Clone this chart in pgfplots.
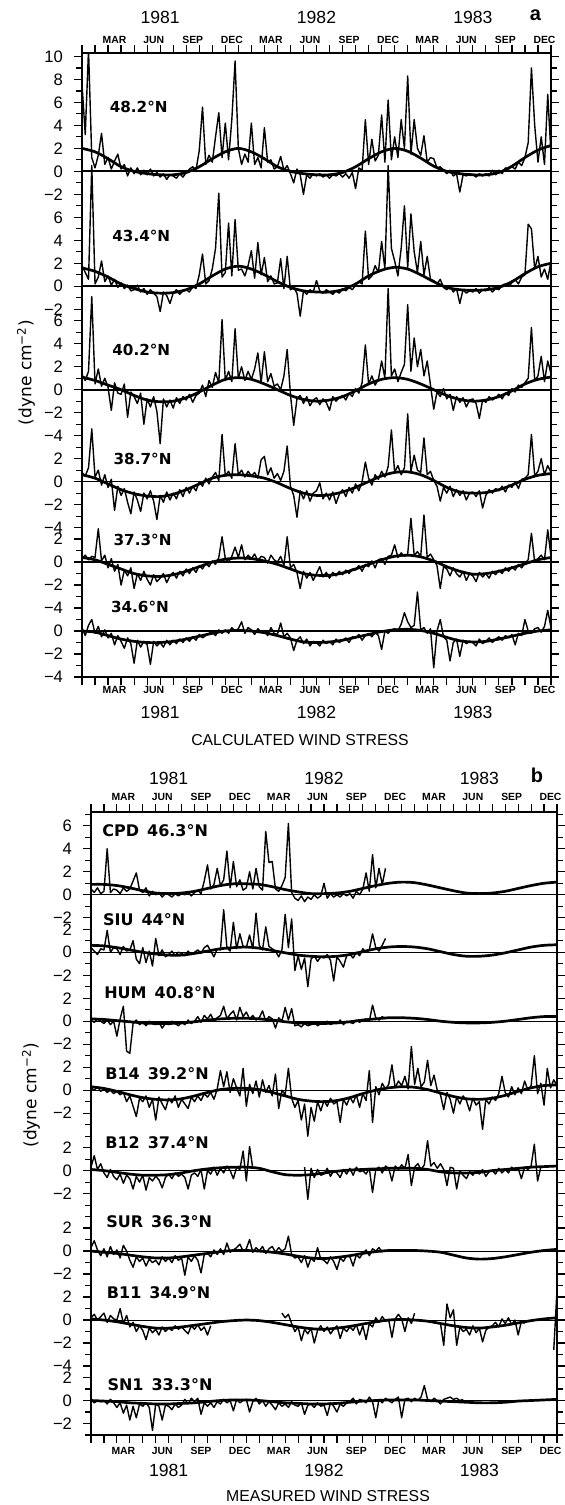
\documentclass[border=0pt]{standalone}
\usepackage{fontspec}
\setmainfont{Liberation Sans}
\newfontfamily\djv{DejaVu Sans}
\usepackage{pgfplots}
\usepackage{pgfplotstable}
\pgfplotsset{compat=1.18}
\pgfplotsset{table/x index=0, table/y index=0}

% ---- calculated wind stress, quarter-month samples (dyne cm^-2) ----
\pgfplotstableread[row sep=\\]{v\\
7.6\\3.2\\10.6\\1.2\\ 0.3\\1.4\\3.3\\0.6\\ 1.2\\0.2\\0.9\\1.5\\ 0.2\\0.6\\-0.4\\0.3\\
-0.2\\0.3\\-0.3\\0.1\\ -0.3\\0.2\\-0.4\\-0.1\\ -0.5\\-0.2\\-0.7\\-0.3\\ -0.4\\-0.6\\-0.2\\-0.5\\
-0.1\\0.2\\0.4\\0.1\\ 1.8\\5.6\\0.6\\1.4\\ 0.8\\3.0\\5.1\\1.2\\ 4.2\\1.0\\4.5\\9.6\\
2.0\\0.6\\1.5\\0.8\\ 4.2\\0.6\\1.2\\0.3\\ 3.8\\0.8\\1.0\\0.2\\ 0.4\\1.3\\0.1\\0.5\\
-0.2\\-1.0\\0.2\\-0.3\\ -2.0\\-0.3\\-0.6\\-0.2\\ -0.4\\-0.2\\-0.5\\-0.3\\ -0.6\\-0.3\\-0.4\\-0.2\\
-0.5\\-0.2\\-0.6\\-0.1\\ -1.5\\0.3\\0.1\\4.5\\ 0.6\\2.8\\0.9\\1.4\\ 4.9\\0.8\\6.2\\1.0\\
3.0\\1.2\\4.5\\2.0\\ 8.3\\1.5\\4.5\\2.0\\ 1.4\\3.1\\0.8\\1.2\\ 1.1\\0.3\\0.4\\0.1\\
-0.2\\0.1\\-0.4\\-0.2\\ -1.8\\-0.3\\-0.4\\-0.2\\ -0.3\\-0.5\\-0.2\\-0.4\\ -0.2\\-0.4\\0.1\\-0.3\\
0.1\\-0.2\\0.3\\0.2\\ 0.4\\0.2\\0.8\\0.5\\ 1.2\\2.5\\9.0\\4.0\\ 0.8\\3.0\\0.6\\6.7\\ 1.5\\
}\nA
\pgfplotstableread[row sep=\\]{v\\
1.8\\1.2\\0.6\\10.5\\ 0.2\\0.8\\2.2\\0.4\\ 0.9\\0.1\\0.6\\-0.1\\ 0.3\\-0.2\\0.1\\-0.4\\
-0.3\\0.1\\-0.5\\-0.2\\ -0.7\\-0.3\\-0.6\\-0.9\\ -2.2\\-0.5\\-0.8\\-1.5\\ -0.6\\-0.3\\-0.7\\-0.4\\
-0.3\\-0.5\\0.0\\-0.2\\ 1.0\\2.8\\0.2\\0.5\\ 1.5\\3.3\\8.1\\0.8\\ 1.2\\5.5\\0.9\\5.8\\
1.4\\1.5\\0.9\\1.8\\ 3.1\\0.7\\3.8\\1.0\\ 2.5\\0.4\\0.9\\0.2\\ 0.3\\2.4\\-0.2\\2.6\\
-0.3\\-0.1\\-0.6\\-2.6\\ -0.4\\-0.7\\-0.3\\-0.5\\ 0.5\\-0.4\\-0.6\\-0.3\\ -0.5\\-0.7\\-0.4\\-0.6\\
-0.2\\-0.4\\-0.1\\-0.3\\ 0.1\\0.4\\0.2\\4.8\\ 0.6\\0.9\\1.8\\1.2\\ 3.9\\1.5\\10.5\\3.3\\
2.2\\0.9\\3.3\\7.0\\ 1.6\\6.3\\3.0\\1.2\\ 3.9\\1.0\\2.6\\0.6\\ 0.5\\0.2\\0.6\\-0.1\\
-0.3\\0.0\\-0.5\\-0.2\\ -1.5\\-0.3\\-0.6\\-0.4\\ -0.5\\-0.2\\-0.6\\-0.3\\ -0.4\\-0.1\\-0.5\\-0.2\\
-0.3\\0.1\\0.2\\0.0\\ 0.3\\0.6\\0.2\\0.8\\ 1.0\\5.4\\5.0\\1.5\\ 2.6\\0.8\\1.5\\0.6\\ 2.2\\
}\nB
\pgfplotstableread[row sep=\\]{v\\
1.3\\0.8\\1.6\\8.1\\ 0.5\\1.8\\0.3\\1.0\\ 0.2\\-1.8\\0.6\\-0.3\\ -0.4\\0.5\\-2.4\\-0.2\\
-0.6\\-1.2\\-0.3\\-3.0\\ -0.8\\-1.5\\-0.6\\-1.9\\ -4.7\\-0.8\\-1.5\\-0.9\\ -1.6\\-0.7\\-1.2\\-0.6\\
-0.9\\-0.4\\-1.1\\-0.5\\ -0.3\\0.4\\-0.6\\0.8\\ 0.2\\1.5\\0.6\\6.1\\ 0.8\\1.6\\0.7\\5.3\\
1.0\\2.0\\0.8\\1.6\\ 0.9\\1.8\\3.2\\0.6\\ 3.3\\0.7\\1.4\\0.3\\ 0.5\\0.0\\1.2\\3.5\\
-0.4\\-3.1\\-0.8\\-0.5\\ -1.2\\-0.6\\-1.4\\-0.9\\ -0.7\\-1.3\\-0.8\\-1.1\\ -1.8\\-0.6\\-1.0\\-0.7\\
-0.5\\-0.9\\-0.3\\-0.6\\ 0.1\\-0.3\\0.6\\3.9\\ 0.5\\1.2\\0.4\\0.9\\ 2.5\\1.0\\8.8\\1.2\\
1.8\\0.7\\1.5\\2.2\\ 7.4\\1.6\\4.5\\2.0\\ 3.5\\1.2\\2.5\\0.4\\ -1.7\\-0.2\\-0.6\\0.1\\
-0.8\\-0.4\\-1.8\\-0.6\\ -1.1\\-0.7\\-1.5\\-0.9\\ -0.8\\-1.2\\-2.5\\-0.9\\ -1.1\\-0.6\\-0.9\\-0.7\\
-0.4\\-0.8\\-0.3\\-0.5\\ 0.1\\-0.2\\0.4\\0.2\\ 0.6\\1.0\\5.4\\0.8\\ 1.2\\2.9\\0.7\\2.5\\ 1.4\\
}\nC
\pgfplotstableread[row sep=\\]{v\\
0.8\\0.5\\1.2\\4.6\\ 0.4\\1.0\\-0.3\\0.6\\ -0.5\\0.2\\-2.5\\-0.4\\ -1.2\\-0.6\\-1.8\\-2.8\\
-0.9\\-1.6\\-2.6\\-1.0\\ -1.5\\-0.8\\-1.7\\-3.3\\ -1.2\\-1.8\\-0.9\\-1.6\\ -1.0\\-1.5\\-0.7\\-1.3\\
-0.5\\-1.0\\-0.4\\-0.8\\ 0.0\\-0.4\\0.3\\-0.2\\ 0.4\\0.8\\0.1\\4.1\\ 0.5\\0.9\\0.3\\3.3\\
0.6\\1.0\\0.4\\0.9\\ 0.5\\0.8\\0.3\\1.9\\ 2.2\\0.6\\1.2\\0.3\\ 0.7\\0.1\\0.9\\3.1\\
-0.4\\-1.2\\-3.1\\-0.8\\ -1.5\\-0.8\\-1.7\\-1.0\\ -0.8\\-0.1\\-1.5\\-1.0\\ -1.6\\-0.9\\-1.9\\-1.1\\
-0.7\\-1.3\\-0.5\\-1.0\\ -0.2\\-0.8\\0.0\\1.7\\ 0.3\\-0.3\\0.6\\0.2\\ 0.9\\0.4\\1.3\\4.5\\
0.8\\1.4\\0.6\\1.2\\ 5.9\\0.9\\2.3\\1.0\\ 0.8\\3.8\\0.6\\0.9\\ 0.1\\-0.4\\-1.7\\-0.5\\
-1.0\\-0.4\\-1.3\\-0.7\\ -1.2\\-0.8\\-1.6\\-1.0\\ -0.9\\-1.3\\-0.8\\-2.3\\ -1.2\\-0.7\\-1.0\\-0.6\\
-0.8\\-0.4\\-0.9\\-0.3\\ -0.5\\0.0\\-0.6\\0.2\\ 0.3\\0.6\\4.1\\0.5\\ 0.9\\2.0\\0.6\\1.4\\ 0.8\\
}\nD
\pgfplotstableread[row sep=\\]{v\\
0.3\\0.6\\0.2\\0.5\\ 0.4\\2.9\\0.1\\0.6\\ -0.5\\0.3\\-0.8\\-0.2\\ -2.0\\-0.7\\-1.2\\-0.5\\
-2.3\\-1.0\\-1.6\\-0.8\\ -1.5\\-2.0\\-1.1\\-1.7\\ -1.4\\-1.0\\-1.8\\-1.2\\ -0.9\\-1.4\\-0.8\\-1.2\\
-0.6\\-1.0\\-0.5\\-0.9\\ -0.3\\-0.6\\-0.1\\-0.4\\ 0.1\\-0.2\\0.4\\2.2\\ 0.3\\0.0\\0.5\\1.3\\
0.4\\1.5\\0.2\\0.6\\ 0.3\\0.7\\0.1\\0.5\\ 0.4\\-0.1\\0.6\\0.2\\ 0.0\\0.5\\-0.3\\2.2\\
-0.5\\-0.2\\-0.9\\-2.3\\ -0.8\\-1.4\\-0.9\\-1.6\\ -1.0\\-0.4\\-1.3\\-0.9\\ -1.4\\-0.9\\-1.2\\-0.8\\
-1.1\\-0.7\\-1.0\\-0.6\\ -0.7\\-0.3\\-0.8\\-0.2\\ -0.4\\0.1\\-0.5\\0.2\\ 0.3\\-0.2\\0.5\\0.6\\
1.5\\0.4\\0.8\\0.5\\ 0.7\\3.8\\0.6\\0.9\\ 0.5\\4.1\\0.4\\0.7\\ 0.2\\-0.3\\-2.3\\-0.4\\
-0.6\\-1.2\\-0.5\\-1.0\\ -1.3\\-0.8\\-1.6\\-1.0\\ -1.2\\-1.7\\-0.9\\-1.3\\ -1.0\\-1.4\\-0.8\\-1.1\\
-0.7\\-1.0\\-0.5\\-0.8\\ -0.4\\-0.7\\-0.2\\-0.5\\ -0.1\\0.2\\2.5\\0.0\\ 0.3\\0.6\\0.2\\2.8\\ 0.5\\
}\nE
\pgfplotstableread[row sep=\\]{v\\
0.3\\-0.4\\0.5\\1.0\\ -0.2\\0.4\\-0.5\\0.1\\ -0.6\\-0.2\\-1.2\\-0.4\\ -0.9\\-1.5\\-0.6\\-1.1\\
-2.8\\-0.8\\-1.4\\-0.9\\ -1.2\\-2.9\\-0.9\\-1.3\\ -1.0\\-1.4\\-0.8\\-1.2\\ -0.8\\-1.1\\-0.7\\-1.0\\
-0.6\\-0.9\\-0.5\\-0.8\\ -0.3\\-0.6\\-0.4\\-0.2\\ -0.1\\-0.4\\0.1\\-0.2\\ 0.1\\-0.2\\0.3\\0.0\\
0.2\\0.8\\-0.2\\0.3\\ 0.1\\-0.3\\0.2\\-0.1\\ 0.0\\-0.4\\0.3\\-0.2\\ -0.3\\0.7\\-0.5\\-0.2\\
-0.6\\-1.7\\-0.8\\-0.5\\ -1.1\\-0.7\\-1.3\\-0.9\\ -1.0\\-1.3\\-0.8\\-1.1\\ -0.9\\-1.2\\-0.7\\-1.0\\
-0.8\\-0.6\\-1.0\\-0.5\\ -0.6\\-0.3\\-0.8\\-0.4\\ -0.2\\-0.5\\-0.1\\-0.4\\ -1.6\\0.0\\-0.2\\0.1\\
0.2\\0.0\\0.6\\1.6\\ 0.8\\0.3\\0.5\\3.4\\ 0.1\\0.3\\-0.2\\0.2\\ -3.2\\0.0\\1.0\\-0.5\\
-0.8\\-2.6\\-1.0\\-0.7\\ -2.2\\-0.8\\-1.1\\-0.9\\ -1.0\\-1.3\\-0.7\\-1.1\\ -0.9\\-0.6\\-1.0\\-0.7\\
-0.5\\-0.8\\-0.4\\-0.6\\ -0.3\\-1.2\\-0.2\\-0.4\\ 1.0\\0.0\\-0.2\\0.2\\ 0.3\\-0.1\\0.4\\1.8\\ 0.3\\
}\nF
% ---- seasonal fits, monthly ----
\pgfplotstableread[row sep=\\]{v\\ 2.0\\1.7\\1.1\\0.4\\0.0\\-0.2\\-0.3\\-0.3\\-0.1\\0.4\\1.1\\1.7\\2.0\\1.7\\1.1\\0.4\\0.0\\-0.2\\-0.3\\-0.3\\-0.1\\0.4\\1.1\\1.7\\2.0\\1.75\\1.15\\0.45\\0.0\\-0.2\\-0.3\\-0.3\\-0.1\\0.45\\1.2\\1.85\\2.25\\}\sA
\pgfplotstableread[row sep=\\]{v\\ 1.6\\1.3\\0.8\\0.2\\-0.2\\-0.5\\-0.6\\-0.55\\-0.3\\0.2\\0.9\\1.5\\1.75\\1.5\\1.0\\0.4\\-0.1\\-0.4\\-0.5\\-0.5\\-0.3\\0.2\\0.9\\1.4\\1.65\\1.5\\1.0\\0.4\\-0.1\\-0.3\\-0.35\\-0.3\\-0.1\\0.4\\1.1\\1.7\\2.0\\}\sB
\pgfplotstableread[row sep=\\]{v\\ 1.1\\0.8\\0.4\\0.0\\-0.5\\-0.9\\-1.05\\-1.0\\-0.7\\-0.2\\0.4\\0.9\\1.05\\0.9\\0.5\\0.0\\-0.5\\-0.85\\-1.0\\-0.9\\-0.6\\-0.1\\0.5\\0.9\\1.05\\0.9\\0.5\\0.0\\-0.5\\-0.85\\-1.0\\-0.9\\-0.6\\-0.1\\0.5\\0.9\\1.1\\}\sC
\pgfplotstableread[row sep=\\]{v\\ 0.6\\0.3\\-0.2\\-0.7\\-1.05\\-1.25\\-1.3\\-1.1\\-0.7\\-0.2\\0.3\\0.55\\0.6\\0.5\\0.3\\-0.1\\-0.6\\-1.0\\-1.2\\-1.15\\-0.9\\-0.5\\0.0\\0.5\\0.8\\0.85\\0.6\\0.1\\-0.5\\-0.9\\-1.0\\-0.95\\-0.7\\-0.3\\0.2\\0.55\\0.7\\}\sD
\pgfplotstableread[row sep=\\]{v\\ 0.4\\0.2\\-0.2\\-0.6\\-1.0\\-1.2\\-1.25\\-1.1\\-0.8\\-0.4\\0.0\\0.25\\0.35\\0.3\\0.1\\-0.2\\-0.6\\-1.0\\-1.15\\-1.15\\-0.95\\-0.6\\-0.2\\0.2\\0.5\\0.6\\0.45\\0.1\\-0.4\\-0.8\\-1.05\\-1.0\\-0.8\\-0.5\\-0.15\\0.2\\0.4\\}\sE
\pgfplotstableread[row sep=\\]{v\\ 0.0\\-0.1\\-0.4\\-0.7\\-0.9\\-1.0\\-1.0\\-0.9\\-0.7\\-0.45\\-0.2\\0.0\\0.05\\0.0\\-0.15\\-0.4\\-0.7\\-0.95\\-1.0\\-0.95\\-0.8\\-0.55\\-0.3\\-0.05\\0.1\\0.15\\0.05\\-0.2\\-0.55\\-0.85\\-0.95\\-0.9\\-0.7\\-0.45\\-0.2\\0.0\\0.1\\}\sF

% ---- measured wind stress ----
\pgfplotstableread[row sep=\\]{v\\
0.5\\0.2\\0.6\\0.1\\ 0.3\\4.0\\0.2\\0.5\\ 0.4\\0.1\\0.6\\0.3\\ 0.5\\1.2\\1.9\\0.4\\
0.2\\0.6\\-0.1\\0.3\\ 0.0\\0.2\\-0.2\\0.1\\ 0.0\\-0.2\\0.1\\-0.1\\ 0.1\\0.0\\0.2\\-0.1\\
0.2\\0.4\\0.1\\1.2\\ 2.6\\0.5\\0.9\\2.3\\ 0.8\\1.3\\3.8\\0.6\\ 2.9\\0.7\\1.3\\0.4\\
0.6\\2.0\\0.5\\2.3\\ 0.7\\0.4\\5.5\\2.8\\ 2.9\\0.5\\0.3\\0.8\\ 1.5\\6.2\\0.2\\-0.3\\
-0.5\\-0.1\\-0.6\\-0.2\\ -0.4\\0.0\\-0.3\\-0.1\\ 1.0\\-0.3\\0.1\\-0.2\\ 0.0\\-0.2\\0.1\\-0.1\\
0.1\\-0.3\\0.3\\0.0\\ 0.5\\1.9\\0.3\\3.5\\ 0.6\\2.3\\0.9\\2.3\\
}\nG
\pgfplotstableread[row sep=\\]{v\\
0.4\\0.1\\-0.2\\0.3\\ 0.2\\1.9\\0.0\\0.4\\ 0.3\\-0.2\\0.5\\0.1\\ 0.2\\1.0\\-0.6\\-1.0\\
0.4\\-0.9\\0.1\\-1.2\\ 1.2\\-0.3\\0.2\\-0.4\\ -0.2\\0.1\\-0.3\\0.0\\ -0.1\\-0.3\\0.1\\-0.2\\
0.0\\0.2\\-0.1\\0.4\\ 0.6\\0.1\\-0.4\\0.3\\ 0.2\\3.7\\0.4\\0.1\\ 2.6\\0.3\\1.6\\0.5\\
0.4\\1.5\\0.3\\3.4\\ 0.6\\0.2\\2.2\\0.5\\ 0.3\\0.1\\-0.4\\0.2\\ 3.3\\0.4\\2.9\\-1.6\\
-0.3\\-1.5\\-0.5\\-3.0\\ -0.6\\-0.3\\-0.8\\-0.4\\ -0.5\\-0.2\\-0.7\\-2.5\\ -0.4\\-0.8\\-1.3\\-0.3\\
-0.2\\-0.5\\0.0\\-0.3\\ 0.3\\0.0\\0.2\\1.6\\ 0.4\\0.1\\0.6\\1.2\\
}\nH
\pgfplotstableread[row sep=\\]{v\\
0.1\\-0.1\\0.2\\0.0\\ -0.2\\0.1\\-0.3\\0.0\\ -1.3\\0.2\\1.3\\-2.6\\ -2.8\\-0.2\\0.1\\-0.3\\
-0.1\\-0.4\\0.0\\-0.2\\ -0.3\\-0.1\\-0.6\\-0.2\\ -0.3\\0.0\\-0.2\\-0.4\\ -0.1\\-0.3\\0.1\\-0.2\\
0.0\\0.4\\-0.1\\0.5\\ 0.2\\0.6\\0.0\\0.3\\ 0.5\\1.3\\0.2\\0.6\\ 0.9\\0.1\\1.2\\0.4\\
0.8\\0.2\\0.5\\0.1\\ 0.3\\0.9\\0.0\\0.4\\ 0.2\\-0.6\\0.3\\0.0\\ 1.2\\0.1\\1.1\\-0.4\\
-0.3\\-0.5\\-0.2\\-0.4\\ -0.3\\-0.1\\-0.4\\-0.2\\ -0.2\\0.0\\-0.3\\-0.1\\ -0.2\\0.1\\-0.3\\0.0\\
-0.1\\-0.2\\0.1\\-0.1\\ 0.1\\0.2\\0.0\\1.4\\ 0.3\\0.1\\0.4\\0.2\\
}\nI
\pgfplotstableread[row sep=\\]{v\\
0.2\\0.0\\0.3\\-0.1\\ 0.1\\-0.2\\0.0\\-0.3\\ -0.1\\-0.4\\-0.2\\-1.0\\ -0.5\\-1.4\\-2.3\\-0.7\\
-1.0\\-0.5\\-1.5\\-0.8\\ -2.6\\-0.6\\-1.2\\-1.7\\ -0.7\\-1.1\\-0.5\\-1.5\\ -0.8\\-1.2\\-1.6\\-0.6\\
-1.0\\-0.5\\-0.9\\-0.3\\ -0.6\\-0.2\\-0.8\\0.1\\ 1.7\\0.3\\1.6\\-0.2\\ 1.0\\0.2\\-0.5\\1.9\\
-1.4\\0.5\\-0.3\\0.8\\ -0.6\\0.9\\-0.2\\0.4\\ -0.5\\1.4\\-1.6\\0.0\\ -0.4\\1.9\\-0.7\\-1.5\\
-0.9\\-2.6\\-1.2\\-4.0\\ -1.5\\-2.7\\-1.0\\-1.8\\ -0.9\\-1.4\\-0.7\\-1.2\\ -1.0\\-2.8\\-0.8\\-1.3\\
-0.6\\-1.1\\-0.4\\-1.5\\ -0.3\\-0.9\\1.7\\-2.8\\ 0.3\\-0.4\\0.6\\0.1\\ 0.5\\2.2\\0.2\\0.8\\
0.4\\1.2\\0.1\\3.8\\ 0.5\\1.9\\0.3\\0.7\\ 2.6\\0.4\\1.3\\0.0\\ -0.4\\-1.7\\-0.2\\-0.8\\
-2.0\\-0.6\\-1.2\\-0.5\\ -0.9\\-1.8\\-0.7\\-1.3\\ -1.0\\-3.4\\-0.8\\-1.2\\ -0.6\\-0.9\\-0.3\\1.2\\
-0.2\\-0.6\\0.3\\-0.4\\ 0.2\\-0.3\\0.8\\0.0\\ 0.4\\3.0\\-0.3\\0.6\\ -1.3\\1.9\\0.2\\0.9\\ 0.4\\
}\nJ
\pgfplotstableread[row sep=\\]{v\\
0.3\\1.3\\0.1\\0.6\\ -0.2\\-0.6\\0.1\\-0.5\\ -0.8\\-0.3\\-1.1\\-0.4\\ -0.7\\-1.6\\-0.5\\-1.0\\
-0.4\\-1.7\\-0.6\\-0.9\\ -0.5\\-0.8\\-1.5\\-0.6\\ -0.3\\-0.7\\-0.2\\-0.5\\ -0.3\\-0.6\\-1.6\\-0.4\\
-0.2\\-0.5\\0.1\\-1.6\\ 0.0\\-0.3\\0.3\\-0.4\\ 0.2\\-0.2\\0.4\\0.0\\ -0.7\\0.3\\0.1\\1.7\\
-0.9\\2.1\\0.2\\
}\nKa
\pgfplotstableread[row sep=\\]{v\\
0.3\\-2.5\\ 0.2\\-0.6\\0.1\\-0.4\\ -0.3\\0.2\\-0.5\\0.0\\ -0.2\\-0.6\\0.1\\-0.3\\
0.2\\-0.4\\0.3\\-0.1\\ 0.0\\-0.3\\0.2\\-1.9\\ 0.1\\0.3\\-0.2\\0.4\\ 0.2\\-0.9\\0.4\\0.1\\
0.5\\0.2\\1.4\\-1.3\\ 0.3\\0.6\\0.1\\0.5\\ 2.6\\0.4\\0.7\\0.2\\ 0.6\\0.1\\-1.3\\0.3\\
0.2\\-1.6\\0.0\\-0.4\\ -0.7\\-0.1\\-0.4\\0.0\\ -0.3\\0.1\\-0.5\\-0.1\\ 0.0\\-0.3\\0.2\\-0.2\\
0.1\\-0.2\\0.3\\0.0\\ 0.2\\-0.7\\0.3\\0.1\\ 0.4\\2.3\\-0.9\\0.3\\
}\nKb
\pgfplotstableread[row sep=\\]{v\\
0.3\\0.9\\0.1\\-0.4\\ 0.2\\-0.5\\0.4\\-0.3\\ 0.1\\-0.6\\0.5\\0.0\\ -0.8\\-1.4\\-0.5\\-0.9\\
-0.6\\-1.3\\-0.7\\-1.0\\ -0.8\\-1.2\\-0.5\\-0.9\\ -0.6\\-1.0\\-0.4\\-0.8\\ -0.6\\-2.1\\-0.5\\-0.9\\
-0.4\\-0.8\\-1.9\\-0.3\\ -0.2\\-0.5\\0.1\\-0.3\\ 0.2\\-0.3\\0.7\\-0.1\\ 0.1\\0.3\\0.6\\0.0\\
0.2\\1.0\\-0.1\\0.3\\ 0.0\\0.4\\-0.2\\0.2\\ 0.4\\-0.1\\0.3\\0.0\\ 0.2\\1.3\\-0.3\\-0.6\\
-0.5\\-1.0\\-0.4\\-1.4\\ -0.6\\-0.9\\0.3\\-0.7\\ -0.8\\-1.1\\-0.5\\-0.9\\ -1.6\\-0.6\\-0.9\\-0.4\\
-0.5\\-1.3\\-0.3\\-0.6\\ -0.2\\0.1\\-0.4\\0.2\\ 0.0\\0.3\\-0.1\\
}\nL
\pgfplotstableread[row sep=\\]{v\\
0.2\\0.5\\0.0\\0.3\\ 0.6\\-0.2\\0.4\\0.1\\ 0.0\\1.0\\-0.3\\0.4\\ -0.6\\-0.2\\-1.0\\-0.5\\
-0.9\\-1.7\\-0.7\\-1.1\\ -0.8\\-1.3\\-0.6\\-1.0\\ -0.7\\-0.9\\-0.5\\-0.8\\ -0.6\\-0.9\\-1.2\\-0.5\\
-0.8\\-0.4\\-0.9\\-0.6\\ -1.3\\-0.5\\
}\nMa
\pgfplotstableread[row sep=\\]{v\\
0.6\\ 0.2\\0.5\\-0.3\\-1.0\\ -0.6\\-1.8\\-0.8\\-1.2\\ -0.7\\-2.0\\-0.9\\-0.5\\ -1.0\\-0.6\\-1.2\\-0.8\\
-0.5\\-1.6\\-0.7\\-1.0\\ -0.6\\-0.9\\-0.4\\-1.3\\ -0.5\\-1.7\\-0.3\\-0.6\\ 0.2\\-0.2\\0.3\\-0.1\\
0.0\\-1.5\\0.1\\0.5\\ 0.1\\-1.0\\0.2\\-0.3\\ 0.6\\
}\nMb
\pgfplotstableread[row sep=\\]{v\\
-0.3\\-2.2\\1.4\\0.2\\ 0.9\\-2.2\\-0.6\\-1.0\\ -0.8\\-1.3\\-0.5\\-1.1\\ -0.7\\-1.9\\-0.9\\-0.6\\
-0.5\\-0.2\\-0.6\\0.1\\ -0.3\\0.2\\-0.4\\0.0\\ -1.3\\-0.1\\-0.3\\
}\nMc
\pgfplotstableread[row sep=\\]{v\\ -2.6\\2.6\\}\nMd
\pgfplotstableread[row sep=\\]{v\\
0.1\\-0.2\\0.0\\-0.1\\ 0.0\\-0.3\\0.1\\-0.2\\ -0.6\\-0.2\\-1.1\\-0.4\\ -1.7\\-0.5\\-1.5\\-0.3\\
-0.5\\-0.2\\-0.6\\-2.6\\ -0.3\\-0.5\\-1.7\\-0.4\\ -0.5\\-0.8\\-0.3\\-0.6\\ -0.4\\0.1\\-0.3\\0.2\\
-0.1\\0.2\\-1.2\\-0.2\\ -0.5\\-0.2\\-0.6\\-0.1\\ -0.3\\0.1\\-0.2\\0.0\\ -0.9\\0.1\\-0.2\\0.0\\
0.1\\-1.0\\-0.1\\0.2\\ -0.3\\0.0\\-0.5\\-0.1\\ -0.4\\-0.8\\-0.2\\-0.5\\ -0.3\\-0.6\\-0.1\\-0.4\\
-0.5\\-0.2\\-1.2\\-0.4\\ -0.3\\-0.6\\-0.2\\-0.5\\ -0.4\\-1.3\\-0.2\\-0.5\\ -1.0\\-0.3\\-0.5\\-0.2\\
-0.1\\0.2\\-0.3\\0.1\\ 0.0\\-0.2\\0.3\\-0.1\\ -1.5\\0.1\\-0.2\\0.2\\ 0.0\\-0.2\\0.1\\0.3\\
-1.5\\0.1\\0.2\\-0.1\\ 0.2\\0.0\\0.3\\1.3\\ 0.1\\-0.1\\0.2\\0.0\\ -0.3\\0.1\\0.2\\0.3\\ 0.1\\0.2\\0.0\\0.1\\
}\nN
\pgfplotstableread[row sep=\\]{v\\ 0.9\\0.9\\0.8\\0.6\\0.35\\0.15\\0.1\\0.15\\0.3\\0.55\\0.8\\0.95\\0.95\\0.9\\0.7\\0.45\\0.25\\0.1\\0.1\\0.15\\0.3\\0.55\\0.8\\1.0\\1.1\\1.05\\0.85\\0.6\\0.35\\0.15\\0.1\\0.15\\0.3\\0.55\\0.8\\1.0\\1.1\\}\sG
\pgfplotstableread[row sep=\\]{v\\ 0.6\\0.55\\0.4\\0.2\\0.0\\-0.15\\-0.25\\-0.25\\-0.1\\0.1\\0.3\\0.4\\0.45\\0.35\\0.15\\-0.05\\-0.25\\-0.35\\-0.4\\-0.35\\-0.2\\0.05\\0.3\\0.45\\0.5\\0.45\\0.3\\0.05\\-0.2\\-0.35\\-0.35\\-0.25\\-0.05\\0.2\\0.45\\0.6\\0.65\\}\sH
\pgfplotstableread[row sep=\\]{v\\ 0.2\\0.15\\0.05\\-0.05\\-0.15\\-0.2\\-0.2\\-0.15\\-0.05\\0.1\\0.2\\0.25\\0.25\\0.2\\0.1\\-0.05\\-0.15\\-0.2\\-0.2\\-0.15\\-0.05\\0.1\\0.2\\0.3\\0.3\\0.25\\0.15\\0.0\\-0.1\\-0.15\\-0.15\\-0.1\\0.0\\0.15\\0.3\\0.4\\0.4\\}\sI
\pgfplotstableread[row sep=\\]{v\\ 0.3\\0.15\\-0.1\\-0.4\\-0.65\\-0.8\\-0.85\\-0.75\\-0.5\\-0.2\\0.05\\0.15\\0.15\\0.05\\-0.2\\-0.5\\-0.8\\-0.95\\-1.0\\-0.9\\-0.65\\-0.3\\0.0\\0.2\\0.3\\0.25\\0.05\\-0.25\\-0.55\\-0.75\\-0.8\\-0.7\\-0.45\\-0.1\\0.2\\0.4\\0.45\\}\sJ
\pgfplotstableread[row sep=\\]{v\\ 0.1\\0.0\\-0.15\\-0.3\\-0.4\\-0.4\\-0.35\\-0.2\\0.0\\0.15\\0.25\\0.3\\0.3\\0.2\\-0.1\\-0.35\\-0.4\\-0.35\\-0.2\\-0.05\\0.05\\0.1\\0.15\\0.2\\0.2\\0.2\\0.1\\-0.1\\-0.2\\-0.2\\-0.15\\0.0\\0.1\\0.2\\0.3\\0.35\\0.4\\}\sK
\pgfplotstableread[row sep=\\]{v\\ 0.0\\-0.1\\-0.2\\-0.35\\-0.5\\-0.6\\-0.6\\-0.5\\-0.35\\-0.2\\-0.05\\0.05\\0.05\\0.0\\-0.1\\-0.25\\-0.45\\-0.6\\-0.65\\-0.55\\-0.4\\-0.2\\-0.05\\0.05\\0.05\\0.05\\0.0\\-0.1\\-0.35\\-0.6\\-0.7\\-0.65\\-0.5\\-0.3\\-0.1\\0.05\\0.15\\}\sL
\pgfplotstableread[row sep=\\]{v\\ 0.1\\0.0\\-0.15\\-0.35\\-0.55\\-0.7\\-0.7\\-0.6\\-0.45\\-0.3\\-0.15\\-0.05\\0.0\\-0.05\\-0.2\\-0.4\\-0.6\\-0.75\\-0.8\\-0.7\\-0.55\\-0.35\\-0.15\\0.0\\0.05\\0.0\\-0.1\\-0.3\\-0.5\\-0.65\\-0.7\\-0.6\\-0.45\\-0.25\\-0.05\\0.1\\0.2\\}\sM
\pgfplotstableread[row sep=\\]{v\\ 0.0\\-0.05\\-0.1\\-0.2\\-0.25\\-0.3\\-0.3\\-0.25\\-0.2\\-0.1\\0.0\\0.05\\0.05\\0.0\\-0.1\\-0.2\\-0.25\\-0.3\\-0.3\\-0.25\\-0.15\\-0.05\\0.0\\0.05\\0.05\\0.05\\0.0\\-0.05\\-0.1\\-0.15\\-0.2\\-0.2\\-0.15\\-0.05\\0.0\\0.05\\0.1\\}\sN

\tikzset{
  noisy/.style={black, line width=0.7pt, line join=round},
  fit/.style={black, line width=1.35pt, smooth},
  zl/.style={black, line width=0.85pt},
  zlb/.style={black, line width=0.5pt},
  mlab/.style={font=\bfseries\fontsize{5.2}{6}\selectfont, inner sep=0pt},
  ylab/.style={font=\fontsize{8.8}{10}\selectfont, inner sep=0pt},
  stn/.style={font=\djv\bfseries\fontsize{7.6}{9}\selectfont, anchor=west, inner sep=0pt},
  stnb/.style={font=\djv\bfseries\fontsize{8}{9}\selectfont, anchor=west, inner sep=0pt},
}
\pgfplotsset{panel/.style={
  scale only axis, anchor=south west,
  xmin=0, xmax=36, xtick={0,...,36}, xticklabels={},
  tick align=outside, major tick length=4pt, minor tick length=2.8pt,
  axis line style={line width=0.8pt},
  every tick/.style={black, line width=0.6pt},
  y tick label style={font=\fontsize{8.3}{9}\selectfont, xshift=-2pt},
  clip mode=individual,
}}
\newcommand\monthlabels[2]{%
  \node[mlab,yshift=#2] at (axis cs:2.5,#1) {MAR};
  \node[mlab,yshift=#2] at (axis cs:5.5,#1) {JUN};
  \node[mlab,yshift=#2] at (axis cs:8.5,#1) {SEP};
  \node[mlab,yshift=#2] at (axis cs:11.5,#1) {DEC};
  \node[mlab,yshift=#2] at (axis cs:14.5,#1) {MAR};
  \node[mlab,yshift=#2] at (axis cs:17.5,#1) {JUN};
  \node[mlab,yshift=#2] at (axis cs:20.5,#1) {SEP};
  \node[mlab,yshift=#2] at (axis cs:23.5,#1) {DEC};
  \node[mlab,yshift=#2] at (axis cs:26.5,#1) {MAR};
  \node[mlab,yshift=#2] at (axis cs:29.5,#1) {JUN};
  \node[mlab,yshift=#2] at (axis cs:32.5,#1) {SEP};
  \node[mlab,yshift=#2] at (axis cs:35.5,#1) {DEC};
}
\newcommand\yearlabels[2]{%
  \node[ylab,yshift=#2] at (axis cs:6,#1) {1981};
  \node[ylab,yshift=#2] at (axis cs:18,#1) {1982};
  \node[ylab,yshift=#2] at (axis cs:30,#1) {1983};
}

\begin{document}
\begin{tikzpicture}
\path[use as bounding box] (0,0) rectangle (282pt,752.5pt);

\begin{axis}[panel, at={(41pt,414pt)}, width=234.5pt, height=312pt,
  ymin=-4, ymax=50.3,
  ytick={-4,-2,0,2,4,6,8,9,11,13,15,17,19,21,23,25,27,28,30,32,34,36,38,40,42,44,46,48,50},
  yticklabels={−4,−2,0,−4,−2,0,2,−4,−2,0,2,−4,−2,0,2,4,6,−2,0,2,4,6,−2,0,2,4,6,8,10},
  minor ytick={-4,...,50}]
\addplot[zl] coordinates {(0,40) (36,40)};
\addplot[zl] coordinates {(0,30) (36,30)};
\addplot[zl] coordinates {(0,21) (36,21)};
\addplot[zl] coordinates {(0,13) (36,13)};
\addplot[zl] coordinates {(0,6) (36,6)};
\addplot[zl] coordinates {(0,0) (36,0)};
\addplot[noisy] table[x expr=\coordindex/4, y expr=\thisrow{v}+40] {\nA};
\addplot[noisy] table[x expr=\coordindex/4, y expr=\thisrow{v}+30] {\nB};
\addplot[noisy] table[x expr=\coordindex/4, y expr=\thisrow{v}+21] {\nC};
\addplot[noisy] table[x expr=\coordindex/4, y expr=\thisrow{v}+13] {\nD};
\addplot[noisy] table[x expr=\coordindex/4, y expr=\thisrow{v}+6] {\nE};
\addplot[noisy] table[x expr=\coordindex/4, y expr=\thisrow{v}] {\nF};
\addplot[fit] table[x expr=\coordindex, y expr=\thisrow{v}+40] {\sA};
\addplot[fit] table[x expr=\coordindex, y expr=\thisrow{v}+30] {\sB};
\addplot[fit] table[x expr=\coordindex, y expr=\thisrow{v}+21] {\sC};
\addplot[fit] table[x expr=\coordindex, y expr=\thisrow{v}+13] {\sD};
\addplot[fit] table[x expr=\coordindex, y expr=\thisrow{v}+6] {\sE};
\addplot[fit] table[x expr=\coordindex, y expr=\thisrow{v}] {\sF};
\node[stn] at (axis cs:2.1,45.6) {48.2°N};
\node[stn] at (axis cs:2.3,34.4) {43.4°N};
\node[stn] at (axis cs:2.3,24.5) {40.2°N};
\node[stn] at (axis cs:2.4,15.0) {38.7°N};
\node[stn] at (axis cs:2.4,7.9) {37.3°N};
\node[stn] at (axis cs:2.2,2.1) {34.6°N};
\monthlabels{50.3}{6.5pt}
\yearlabels{50.3}{18pt}
\monthlabels{-4}{-6.5pt}
\yearlabels{-4}{-17.5pt}
\end{axis}

\node[font=\bfseries\fontsize{10}{11}\selectfont] at (267.75pt,745pt) {a};
\node[rotate=90, font=\djv\fontsize{8.5}{10}\selectfont] at (13pt,566.25pt) {(dyne cm\textsuperscript{−2})};
\node[font=\fontsize{7.9}{9}\selectfont] at (150pt,382.5pt) {CALCULATED WIND STRESS};

\begin{axis}[panel, at={(45.5pt,35pt)}, width=233pt, height=311.5pt,
  ymin=-3, ymax=51.2,
  ytick={-2,0,2,3,5,7,9,11,13,15,18,20,22,25,27,29,31,33,35,37,39,41,42,44,46,48,50},
  yticklabels={−2,0,2,−4,−2,0,2,−2,0,2,−2,0,2,−2,0,2,−2,0,2,−2,0,2,−2,0,2,4,6},
  minor ytick={-3,...,51}]
\addplot[zlb] coordinates {(0,44) (36,44)};
\addplot[zlb] coordinates {(0,39) (36,39)};
\addplot[zlb] coordinates {(0,33) (36,33)};
\addplot[zlb] coordinates {(0,27) (36,27)};
\addplot[zlb] coordinates {(0,20) (36,20)};
\addplot[zlb] coordinates {(0,13) (36,13)};
\addplot[zlb] coordinates {(0,7) (36,7)};
\addplot[zlb] coordinates {(0,0) (36,0)};
\addplot[noisy] table[x expr=\coordindex/4, y expr=\thisrow{v}+44] {\nG};
\addplot[noisy] table[x expr=\coordindex/4, y expr=\thisrow{v}+39] {\nH};
\addplot[noisy] table[x expr=\coordindex/4, y expr=\thisrow{v}+33] {\nI};
\addplot[noisy] table[x expr=\coordindex/4, y expr=\thisrow{v}+27] {\nJ};
\addplot[noisy] table[x expr=\coordindex/4, y expr=\thisrow{v}+20] {\nKa};
\addplot[noisy] table[x expr=\coordindex/4+16.5, y expr=\thisrow{v}+20] {\nKb};
\addplot[noisy] table[x expr=\coordindex/4, y expr=\thisrow{v}+13] {\nL};
\addplot[noisy] table[x expr=\coordindex/4, y expr=\thisrow{v}+7] {\nMa};
\addplot[noisy] table[x expr=\coordindex/4+14.75, y expr=\thisrow{v}+7] {\nMb};
\addplot[noisy] table[x expr=\coordindex/4+27, y expr=\thisrow{v}+7] {\nMc};
\addplot[noisy] table[x expr=\coordindex/4+35.75, y expr=\thisrow{v}+7] {\nMd};
\addplot[noisy] table[x expr=\coordindex/4, y expr=\thisrow{v}] {\nN};
\addplot[fit] table[x expr=\coordindex, y expr=\thisrow{v}+44] {\sG};
\addplot[fit] table[x expr=\coordindex, y expr=\thisrow{v}+39] {\sH};
\addplot[fit] table[x expr=\coordindex, y expr=\thisrow{v}+33] {\sI};
\addplot[fit] table[x expr=\coordindex, y expr=\thisrow{v}+27] {\sJ};
\addplot[fit] table[x expr=\coordindex, y expr=\thisrow{v}+20] {\sK};
\addplot[fit] table[x expr=\coordindex, y expr=\thisrow{v}+13] {\sL};
\addplot[fit] table[x expr=\coordindex, y expr=\thisrow{v}+7] {\sM};
\addplot[fit] table[x expr=\coordindex, y expr=\thisrow{v}] {\sN};
\node[stnb] at (axis cs:0.85,49.6) {CPD\enspace 46.3°N};
\node[stnb] at (axis cs:0.9,41.8) {SIU\enspace 44°N};
\node[stnb] at (axis cs:1.0,35.5) {HUM\enspace 40.8°N};
\node[stnb] at (axis cs:1.08,28.45) {B14\enspace 39.2°N};
\node[stnb] at (axis cs:1.08,22.4) {B12\enspace 37.4°N};
\node[stnb] at (axis cs:1.16,15.6) {SUR\enspace 36.3°N};
\node[stnb] at (axis cs:1.2,9.4) {B11\enspace 34.9°N};
\node[stnb] at (axis cs:1.25,1.4) {SN1\enspace 33.3°N};
\monthlabels{51.2}{7.5pt}
\yearlabels{51.2}{17pt}
\monthlabels{-3}{-8pt}
\yearlabels{-3}{-17.5pt}
\end{axis}

\node[font=\bfseries\fontsize{10}{11}\selectfont] at (268.5pt,365pt) {b};
\node[rotate=90, font=\djv\fontsize{8.5}{10}\selectfont] at (15.5pt,205pt) {(dyne cm\textsuperscript{−2})};
\node[font=\fontsize{7.9}{9}\selectfont] at (164pt,4.5pt) {MEASURED WIND STRESS};
\end{tikzpicture}
\end{document}
